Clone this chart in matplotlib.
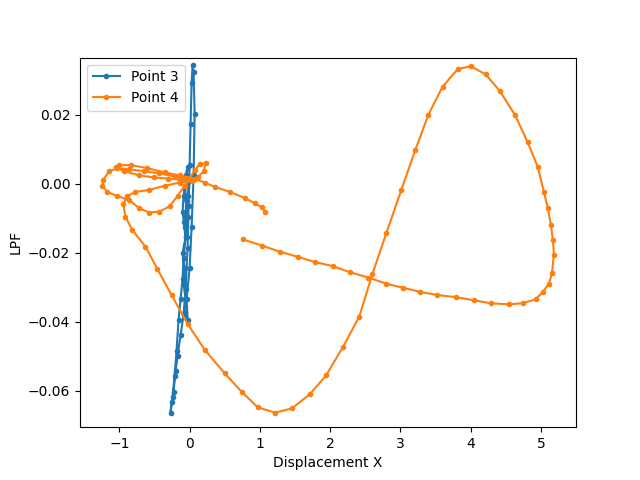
import matplotlib
matplotlib.use("Agg")
import matplotlib.pyplot as plt
import numpy as np

# pixel-read values converted: x=(px-190)/70, y=(188-py)/3350
o_px = [243,262,280,298,315,333,350,368,386,403,420,437,455,473,490,508,522,535,542,548,551,553,552,550,547,543,537,527,514,499,485,470,457,442,428,415,401,386,372,359,343,326,310,292,275,258,242,225,205,188,172,158,146,133,126,124,128,136,150,165,180,192,185,175,160,145,130,118,110,104,103,108,118,130,140,150,160,170,178,185,190,195,200,206,204,198,190,180,168,155,140,125,117,120,132,148,165,180,195,205,215,230,245,255,262,265]
o_py = [242,248,254,259,264,268,274,279,285,289,293,296,298,301,304,305,304,300,293,285,275,257,243,228,212,196,172,148,121,98,82,74,77,94,121,155,194,236,276,317,346,374,392,406,410,405,390,372,349,324,296,271,249,233,220,208,200,196,194,190,187,185,183,181,178,176,174,173,176,184,190,196,200,204,212,216,215,210,200,190,183,175,169,168,176,182,184,184,183,182,180,176,172,170,170,173,177,180,183,187,191,196,202,207,211,215]
b_px = [187,186,188,185,187,184,186,183,185,184,186,185,188,187,190,192,194,195,194,193,192,191,190,189,188,186,184,181,178,176,174,172,171,173,175,177,179,181,183,184,186,188,187,185,184,183,185,187,186,188,190]
b_py = [190,180,172,200,210,225,240,255,270,285,300,312,320,300,270,230,180,120,80,73,90,130,170,210,250,290,315,335,355,370,390,400,410,395,375,350,320,300,280,260,240,220,205,190,200,215,230,240,220,200,185]
ox = (np.array(o_px) - 190) / 70
oy = (188 - np.array(o_py)) / 3350
bx = (np.array(b_px) - 190) / 70
by = (188 - np.array(b_py)) / 3350

fig, ax = plt.subplots(figsize=(6.4, 4.8), dpi=100)
ax.plot(bx, by, marker='.', label='Point 3')
ax.plot(ox, oy, marker='.', label='Point 4')
ax.set_xlabel('Displacement X')
ax.set_ylabel('LPF')
ax.set_xlim(-1.56, 5.5)
ax.set_ylim(-0.0705, 0.0365)
ax.legend(loc='upper left')
fig.savefig('out.png')
